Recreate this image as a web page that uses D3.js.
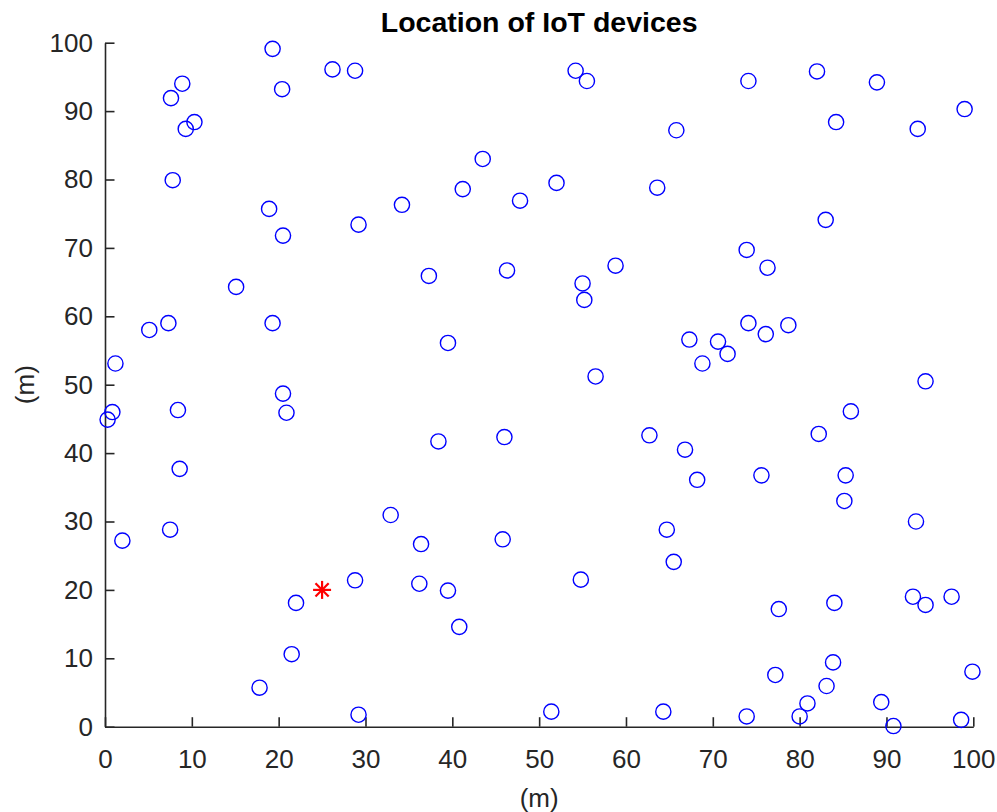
<!DOCTYPE html>
<html>
<head>
<meta charset="utf-8">
<script src="https://cdn.jsdelivr.net/npm/d3@7"></script>
<style>
  html, body { margin: 0; padding: 0; background: #fff; }
  svg { display: block; }
</style>
</head>
<body>
<svg id="chart"></svg>
<script>
// ─── Location of IoT devices ──────────────────────────────

const deviceX = [
  19.3, 26.2, 28.8, 8.9, 7.6, 20.4, 10.3, 9.3, 7.8, 18.9,
  29.2, 20.5, 34.2, 15.1, 5.1, 7.3, 19.3, 1.2, 20.5, 20.9,
  0.85, 0.3, 8.4, 8.6, 7.5, 2.0, 32.9, 28.8, 22.0, 21.5,
  17.8, 29.2, 54.2, 55.5, 65.8, 43.5, 41.2, 52.0, 47.8, 63.6,
  37.3, 46.3, 58.8, 55.0, 55.2, 39.5, 56.5, 38.4, 46.0, 62.7,
  66.8, 36.4, 45.8, 64.7, 65.5, 54.8, 36.2, 39.5, 40.8, 51.4,
  64.3, 74.1, 82.0, 88.9, 99.0, 84.2, 93.6, 83.0, 73.9, 76.3,
  67.3, 70.6, 71.7, 68.8, 74.1, 76.1, 78.7, 94.5, 85.9, 82.2,
  68.2, 75.6, 85.3, 85.15, 93.4, 77.6, 84.0, 93.05, 94.5, 97.5,
  83.85, 77.2, 83.1, 99.9, 80.9, 89.4, 73.9, 80.0, 90.8, 98.6
];
const deviceY = [
  99.1, 96.1, 95.9, 94.0, 91.9, 93.2, 88.4, 87.4, 79.9, 75.7,
  73.4, 71.8, 76.3, 64.3, 58.0, 59.0, 59.0, 53.1, 48.7, 45.9,
  46.0, 44.9, 46.3, 37.7, 28.8, 27.2, 30.95, 21.4, 18.1, 10.6,
  5.7, 1.75, 95.9, 94.4, 87.2, 83.0, 78.6, 79.5, 76.9, 78.8,
  65.9, 66.7, 67.4, 64.8, 62.4, 56.1, 51.2, 41.7, 42.35, 42.6,
  40.5, 26.7, 27.4, 28.8, 24.1, 21.5, 20.9, 19.9, 14.6, 2.2,
  2.2, 94.4, 95.8, 94.2, 90.3, 88.4, 87.4, 74.1, 69.7, 67.1,
  56.6, 56.3, 54.5, 53.1, 59.0, 57.4, 58.7, 50.5, 46.1, 42.8,
  36.1, 36.75, 36.75, 33.0, 30.0, 17.2, 18.1, 19.0, 17.8, 19.0,
  9.4, 7.56, 5.95, 8.04, 3.4, 3.6, 1.5, 1.5, 0.1, 1.0
];

// base station / sink
const sinkX = [25];
const sinkY = [20];

const xTicks = [0, 10, 20, 30, 40, 50, 60, 70, 80, 90, 100];
const yTicks = [0, 10, 20, 30, 40, 50, 60, 70, 80, 90, 100];

const TITLE = "Location of IoT devices";
const X_LABEL = "(m)";
const Y_LABEL = "(m)";

const WIDTH = 997, HEIGHT = 812;
const margin = { top: 42.7, right: 23.7, bottom: 85.3, left: 105 };
const FONT = "'Liberation Sans', Arial, Helvetica, sans-serif";
const AXIS_COLOR = "#262626";

const svg = d3.select("#chart")
  .attr("width", WIDTH)
  .attr("height", HEIGHT);

svg.append("rect")
  .attr("width", WIDTH).attr("height", HEIGHT)
  .attr("fill", "#fff");

const plotW = WIDTH - margin.left - margin.right;
const plotH = HEIGHT - margin.top - margin.bottom;

const g = svg.append("g")
  .attr("transform", `translate(${margin.left},${margin.top})`);

const x = d3.scaleLinear().domain([0, 100]).range([0, plotW]);
const y = d3.scaleLinear().domain([0, 100]).range([plotH, 0]);

// Axes (MATLAB style: box off, ticks pointing inward)
const xAxis = g.append("g")
  .attr("transform", `translate(0,${plotH})`)
  .call(d3.axisBottom(x).tickValues(xTicks).tickFormat(d3.format("d"))
    .tickSizeInner(-9.5).tickSizeOuter(0).tickPadding(22.5));

const yAxis = g.append("g")
  .call(d3.axisLeft(y).tickValues(yTicks).tickFormat(d3.format("d"))
    .tickSizeInner(-9.5).tickSizeOuter(0).tickPadding(12));

[xAxis, yAxis].forEach(ax => {
  ax.select(".domain").attr("stroke", AXIS_COLOR).attr("stroke-width", 1.6);
  ax.selectAll(".tick line").attr("stroke", AXIS_COLOR).attr("stroke-width", 1.6);
  ax.selectAll(".tick text")
    .attr("fill", AXIS_COLOR)
    .attr("font-family", FONT)
    .attr("font-size", "26px");
});

// Devices
g.append("g").attr("class", "devices")
  .selectAll("circle")
  .data(deviceX.map((d, i) => ({ x: d, y: deviceY[i] })))
  .join("circle")
  .attr("cx", d => x(d.x))
  .attr("cy", d => y(d.y))
  .attr("r", 7.6)
  .attr("fill", "none")
  .attr("stroke", "#0000ff")
  .attr("stroke-width", 1.4);

// Sink marker: MATLAB '*'
const star = g.append("g").attr("class", "sink")
  .selectAll("g")
  .data(sinkX.map((d, i) => ({ x: d, y: sinkY[i] })))
  .join("g")
  .attr("transform", d => `translate(${x(d.x)},${y(d.y)})`);

const arm = 9, diag = 6.6;
[[0, -arm, 0, arm], [-arm, 0, arm, 0], [-diag, -diag, diag, diag], [-diag, diag, diag, -diag]]
  .forEach(([x1, y1, x2, y2]) => {
    star.append("line")
      .attr("x1", x1).attr("y1", y1).attr("x2", x2).attr("y2", y2)
      .attr("stroke", "#ff0000")
      .attr("stroke-width", 2.2);
  });

// Title
svg.append("text")
  .attr("x", margin.left + plotW / 2)
  .attr("y", 32)
  .attr("text-anchor", "middle")
  .attr("font-family", FONT)
  .attr("font-weight", "bold")
  .attr("font-size", "28.5px")
  .attr("fill", "#000")
  .text(TITLE);

// Axis labels
svg.append("text")
  .attr("x", margin.left + plotW / 2)
  .attr("y", 807)
  .attr("text-anchor", "middle")
  .attr("font-family", FONT)
  .attr("font-size", "26px")
  .attr("fill", AXIS_COLOR)
  .text(X_LABEL);

svg.append("text")
  .attr("transform", `translate(34,${margin.top + plotH / 2}) rotate(-90)`)
  .attr("text-anchor", "middle")
  .attr("font-family", FONT)
  .attr("font-size", "26px")
  .attr("fill", AXIS_COLOR)
  .text(Y_LABEL);
</script>
</body>
</html>
